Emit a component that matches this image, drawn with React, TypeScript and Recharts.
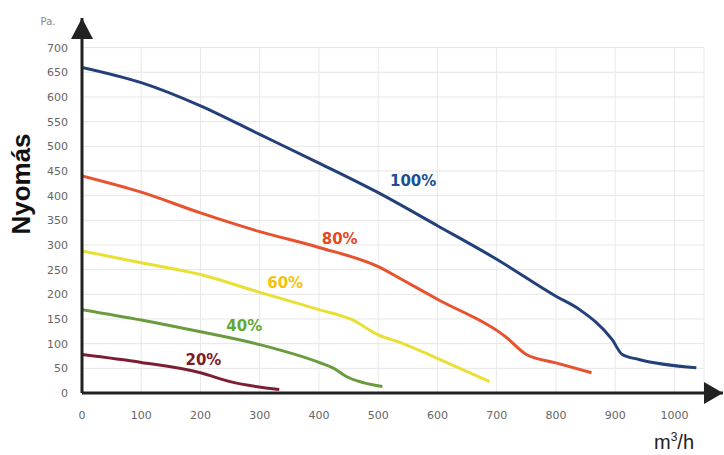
import {
	Label,
	Line,
	LineChart,
	ReferenceDot,
	ReferenceLine,
	XAxis,
	YAxis,
} from 'recharts';

// m3/h ticks and Pa ticks
const xTicks = [0, 100, 200, 300, 400, 500, 600, 700, 800, 900, 1000];
const yTicks = [0, 50, 100, 150, 200, 250, 300, 350, 400, 450, 500, 550, 600, 650, 700];

// 100%
const flow100 = [0, 100, 200, 300, 400, 500, 600, 700, 800, 840, 895, 912, 940, 1037];
const pa100 = [660, 629, 582, 524, 466, 406, 339, 271, 196, 169, 108, 78, 68, 51];
// 80%
const flow80 = [0, 100, 200, 300, 400, 500, 540, 600, 715, 750, 800, 860];
const pa80 = [440, 407, 365, 327, 295, 256, 230, 190, 114, 78, 61, 41];
// 60%
const flow60 = [0, 100, 200, 300, 400, 455, 500, 540, 600, 688];
const pa60 = [288, 264, 240, 204, 169, 149, 118, 101, 70, 23];
// 40%
const flow40 = [0, 100, 200, 300, 400, 425, 447, 475, 507];
const pa40 = [169, 148, 124, 98, 62, 50, 33, 21, 13];
// 20%
const flow20 = [0, 100, 200, 250, 333];
const pa20 = [78, 62, 41, 23, 7];

const curveNames = ['100%', '80%', '60%', '40%', '20%'];
const labelFlow = [559, 435, 343, 274, 205];
const labelPa = [431, 313, 224, 137, 68];

const lineColors = ['#24407a', '#e8522e', '#e9df35', '#6b9b3f', '#7c1f32'];
const labelColors = ['#1d4f91', '#e4491f', '#f4c20d', '#62a832', '#7e1b27'];

const toPoints = (flow: number[], pa: number[]) =>
	flow.map((q, i) => ({q, p: pa[i]}));

const series = [
	toPoints(flow100, pa100),
	toPoints(flow80, pa80),
	toPoints(flow60, pa60),
	toPoints(flow40, pa40),
	toPoints(flow20, pa20),
];

const X_MAX = 1082;
const Y_MAX = 760;

const UpArrow = ({cx, cy}: {cx?: number; cy?: number}) => {
	if (cx === undefined || cy === undefined) return null;
	return (
		<polygon
			points={`${cx},${cy} ${cx - 11},${cy + 21} ${cx + 11},${cy + 21}`}
			fill="#222"
		/>
	);
};

const RightArrow = ({cx, cy}: {cx?: number; cy?: number}) => {
	if (cx === undefined || cy === undefined) return null;
	return (
		<polygon
			points={`${cx},${cy} ${cx - 19},${cy - 11} ${cx - 19},${cy + 11}`}
			fill="#222"
		/>
	);
};

export default function App() {
	return (
		<div style={{position: 'absolute', left: 0, top: 0, background: '#fff'}}>
			<LineChart
				width={724}
				height={455}
				margin={{top: 18, right: 1, bottom: 32, left: 0}}
			>
				{yTicks.slice(1).map(y => (
					<ReferenceLine
						key={'h' + y}
						segment={[
							{x: 0, y},
							{x: 1050, y},
						]}
						stroke="#e6e6e6"
						strokeWidth={1}
					/>
				))}
				{[...xTicks.slice(1), 1050].map(x => (
					<ReferenceLine
						key={'v' + x}
						segment={[
							{x, y: 0},
							{x, y: 700},
						]}
						stroke="#e8e8e8"
						strokeWidth={1}
					/>
				))}

				<XAxis
					type="number"
					dataKey="q"
					domain={[0, X_MAX]}
					ticks={xTicks}
					tickSize={0}
					tickMargin={18}
					axisLine={{stroke: '#222', strokeWidth: 3}}
					tickLine={false}
					height={30}
					tick={{fill: '#666', fontSize: 11, fontFamily: 'DejaVu Sans'}}
					allowDataOverflow
				>
					<Label
						content={({viewBox}: any) => {
							const vb = viewBox || {x: 82, y: 393, width: 641};
							return (
								<text
									x={vb.x + 592}
									y={vb.y + 56}
									textAnchor="middle"
									fontFamily="Liberation Sans, Arial"
									fontSize={20}
									fill="#222"
								>
									m
									<tspan dy={-8} fontSize={12}>
										3
									</tspan>
									<tspan dy={8}>/h</tspan>
								</text>
							);
						}}
					/>
				</XAxis>
				<YAxis
					type="number"
					dataKey="p"
					domain={[0, Y_MAX]}
					ticks={yTicks}
					width={82}
					tickSize={0}
					tickMargin={14}
					axisLine={{stroke: '#222', strokeWidth: 3}}
					tickLine={false}
					tick={{fill: '#666', fontSize: 11, fontFamily: 'DejaVu Sans'}}
					allowDataOverflow
				>
					<Label
						content={({viewBox}: any) => {
							const vb = viewBox || {x: 0, y: 18};
							return (
								<g>
									<text
										transform={`translate(${vb.x + 30}, ${vb.y + 166}) rotate(-90)`}
										textAnchor="middle"
										fontFamily="Liberation Sans, Arial"
										fontWeight="bold"
										fontSize={26}
										fill="#111"
									>
										Nyomás
									</text>
									<text
										x={vb.x + 48}
										y={vb.y + 7}
										textAnchor="middle"
										fontFamily="DejaVu Sans"
										fontSize={10}
										fill="#888"
									>
										Pa.
									</text>
								</g>
							);
						}}
					/>
				</YAxis>

				{series.map((data, i) => (
					<Line
						key={curveNames[i]}
						data={data}
						dataKey="p"
						type="monotone"
						stroke={lineColors[i]}
						strokeWidth={3}
						dot={false}
						activeDot={false}
						isAnimationActive={false}
					/>
				))}

				{curveNames.map((name, i) => (
					<ReferenceDot
						key={'l' + name}
						x={labelFlow[i]}
						y={labelPa[i]}
						r={0}
						stroke="none"
						label={{
							value: name,
							position: 'center',
							fill: labelColors[i],
							fontSize: 15,
							fontWeight: 'bold',
							fontFamily: 'DejaVu Sans',
						}}
					/>
				))}

				<ReferenceDot x={0} y={Y_MAX} r={0} shape={<UpArrow />} ifOverflow="visible" />
				<ReferenceDot x={X_MAX} y={0} r={0} shape={<RightArrow />} ifOverflow="visible" />
			</LineChart>
		</div>
	);
}
